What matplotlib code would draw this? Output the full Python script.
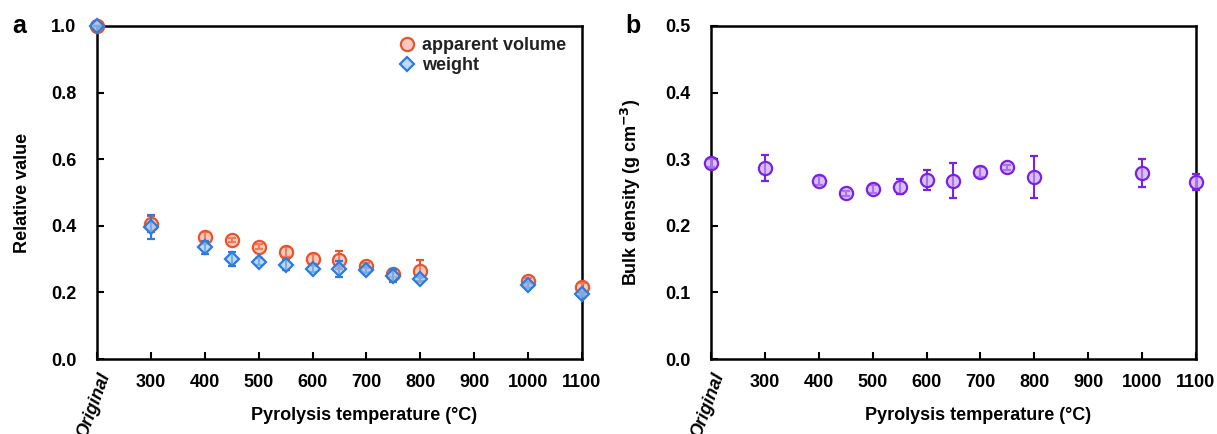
"""Relative value and bulk density versus pyrolysis temperature."""

import matplotlib
matplotlib.use("Agg")
import matplotlib.pyplot as plt
from matplotlib.lines import Line2D

plt.rcParams["font.family"] = ["Liberation Sans", "DejaVu Sans"]
plt.rcParams["font.weight"] = "bold"

# x position 200 stands for the untreated "Original" sample
temps = [200, 300, 400, 450, 500, 550, 600, 650, 700, 750, 800, 1000, 1100]
tick_pos = [200, 300, 400, 500, 600, 700, 800, 900, 1000, 1100]
tick_labels = ["", "300", "400", "500", "600", "700", "800", "900", "1000", "1100"]

vol_mean = [1.0, 0.405, 0.367, 0.357, 0.337, 0.320, 0.300, 0.297, 0.280, 0.255, 0.265, 0.234, 0.217]
vol_err = [0.0, 0.025, 0.015, 0.006, 0.008, 0.015, 0.015, 0.028, 0.008, 0.010, 0.033, 0.010, 0.010]

wt_mean = [1.0, 0.396, 0.335, 0.300, 0.292, 0.282, 0.271, 0.270, 0.267, 0.250, 0.241, 0.222, 0.195]
wt_err = [0.0, 0.037, 0.020, 0.020, 0.010, 0.015, 0.010, 0.025, 0.010, 0.020, 0.008, 0.010, 0.007]

dens_mean = [0.295, 0.287, 0.268, 0.249, 0.256, 0.259, 0.269, 0.268, 0.281, 0.288, 0.273, 0.279, 0.266]
dens_err = [0.006, 0.019, 0.007, 0.004, 0.006, 0.012, 0.015, 0.027, 0.008, 0.004, 0.032, 0.021, 0.012]

ORANGE = "#E8542C"
BLUE = "#2B7CE0"
PURPLE = "#7A22E3"
ORANGE_FACE = (0.97, 0.62, 0.52, 0.55)
BLUE_FACE = (0.6, 0.78, 0.96, 0.65)
PURPLE_FACE = (0.78, 0.62, 0.96, 0.65)
FS = 13


def style_axes(ax, ylim, yticks):
    ax.set_xlim(200, 1100)
    ax.set_ylim(*ylim)
    ax.set_yticks(yticks)
    ax.set_yticklabels([f"{v:.1f}" for v in yticks], fontsize=FS, fontweight="bold")
    ax.set_xticks(tick_pos)
    ax.set_xticklabels(tick_labels, fontsize=FS, fontweight="bold")
    ax.tick_params(direction="in", length=5, width=1.5)
    ax.tick_params(axis="x", pad=11)
    ax.tick_params(axis="y", pad=15)
    for sp in ax.spines.values():
        sp.set_linewidth(1.8)
    ax.text(200, -0.033, "Original", transform=ax.get_xaxis_transform(),
            rotation=70, ha="right", va="top", rotation_mode="anchor",
            fontsize=FS, fontweight="bold", style="italic")
    ax.set_xlabel("Pyrolysis temperature (°C)", fontsize=FS, fontweight="bold")
    ax.xaxis.set_label_coords(0.55, -0.145)


fig = plt.figure(figsize=(12.17, 4.34), dpi=100)
ax1 = fig.add_axes([0.0797, 0.1728, 0.3985, 0.7673])
ax2 = fig.add_axes([0.5842, 0.1728, 0.3985, 0.7673])

# panel a
ax1.errorbar(temps, vol_mean, yerr=vol_err, fmt="o", ms=9.5, mec=ORANGE, mew=1.6,
             mfc=ORANGE_FACE, ecolor=ORANGE, elinewidth=1.5, capsize=3,
             capthick=1.5, zorder=3, clip_on=False)
ax1.errorbar(temps, wt_mean, yerr=wt_err, fmt="D", ms=7, mec=BLUE, mew=1.6,
             mfc=BLUE_FACE, ecolor=BLUE, elinewidth=1.5, capsize=3,
             capthick=1.5, zorder=4, clip_on=False)
style_axes(ax1, (0.0, 1.0), [0.0, 0.2, 0.4, 0.6, 0.8, 1.0])
ax1.set_ylabel("Relative value", fontsize=FS, fontweight="bold", labelpad=14)
handles = [
    Line2D([], [], ls="none", marker="o", ms=9.5, mec=ORANGE, mew=1.6, mfc=ORANGE_FACE),
    Line2D([], [], ls="none", marker="D", ms=7, mec=BLUE, mew=1.6, mfc=BLUE_FACE),
]
leg = ax1.legend(handles, ["apparent volume", "weight"], loc="upper right",
                 bbox_to_anchor=(0.99, 1.0), frameon=False, fontsize=FS,
                 handletextpad=0.25, handlelength=1.2, labelspacing=0.2, borderaxespad=0.2)
for t in leg.get_texts():
    t.set_color("#222222")
ax1.text(-0.175, 1.0, "a", transform=ax1.transAxes, fontsize=18, fontweight="bold",
         va="center", ha="left")

# panel b
ax2.errorbar(temps, dens_mean, yerr=dens_err, fmt="o", ms=9.5, mec=PURPLE, mew=1.6,
             mfc=PURPLE_FACE, ecolor=PURPLE, elinewidth=1.5, capsize=3,
             capthick=1.5, zorder=3, clip_on=False)
style_axes(ax2, (0.0, 0.5), [0.0, 0.1, 0.2, 0.3, 0.4, 0.5])
ax2.set_ylabel("Bulk density (g cm$^{\\mathbf{-3}}$)", fontsize=FS, fontweight="bold", labelpad=16)
ax2.text(-0.177, 1.0, "b", transform=ax2.transAxes, fontsize=18, fontweight="bold",
         va="center", ha="left")

fig.savefig("out.png", dpi=100)
